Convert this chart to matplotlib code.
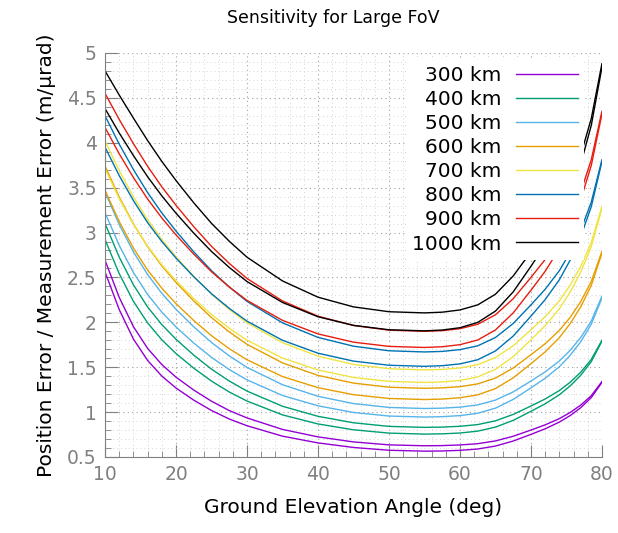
import matplotlib
matplotlib.use("Agg")
import matplotlib.pyplot as plt
from matplotlib.ticker import MultipleLocator, FuncFormatter

elev = [10, 12, 14, 16, 18, 20, 22.5, 25, 27.5, 30, 35, 40, 45, 50, 55,
        57.5, 60, 62.5, 65, 67.5, 70, 72, 74, 75.5, 77, 78.5, 80]

# two curves per altitude (upper "a" and lower "b"), in m/urad
err_300_a = [2.690, 2.277, 1.951, 1.709, 1.529, 1.389, 1.245, 1.121, 1.017, 0.935, 0.807, 0.724, 0.668, 0.635, 0.625,
             0.627, 0.634, 0.648, 0.679, 0.731, 0.800, 0.858, 0.927, 0.995, 1.077, 1.183, 1.340]
err_300_b = [2.560, 2.141, 1.813, 1.575, 1.401, 1.268, 1.133, 1.018, 0.923, 0.848, 0.732, 0.657, 0.606, 0.575, 0.565,
             0.567, 0.574, 0.589, 0.622, 0.678, 0.752, 0.814, 0.889, 0.960, 1.048, 1.162, 1.330]
err_400_a = [3.100, 2.725, 2.417, 2.170, 1.974, 1.811, 1.634, 1.478, 1.346, 1.234, 1.065, 0.953, 0.881, 0.841, 0.830,
             0.833, 0.842, 0.861, 0.903, 0.974, 1.068, 1.146, 1.240, 1.331, 1.443, 1.587, 1.800]
err_400_b = [2.920, 2.541, 2.233, 1.993, 1.805, 1.652, 1.489, 1.345, 1.224, 1.123, 0.969, 0.868, 0.803, 0.766, 0.755,
             0.758, 0.767, 0.788, 0.833, 0.908, 1.009, 1.092, 1.193, 1.290, 1.409, 1.562, 1.790]
err_500_a = [3.450, 3.089, 2.784, 2.531, 2.322, 2.145, 1.950, 1.775, 1.626, 1.498, 1.305, 1.176, 1.095, 1.052, 1.040,
             1.044, 1.055, 1.080, 1.134, 1.225, 1.346, 1.448, 1.569, 1.686, 1.830, 2.015, 2.290]
err_500_b = [3.220, 2.856, 2.554, 2.310, 2.113, 1.948, 1.769, 1.609, 1.474, 1.359, 1.185, 1.070, 0.996, 0.956, 0.945,
             0.949, 0.961, 0.987, 1.044, 1.141, 1.270, 1.377, 1.505, 1.630, 1.782, 1.979, 2.270]
err_600_a = [3.740, 3.394, 3.096, 2.842, 2.628, 2.444, 2.238, 2.052, 1.893, 1.755, 1.548, 1.409, 1.323, 1.277, 1.265,
             1.270, 1.283, 1.314, 1.379, 1.491, 1.639, 1.762, 1.910, 2.053, 2.229, 2.455, 2.790]
err_600_b = [3.470, 3.121, 2.826, 2.581, 2.380, 2.208, 2.020, 1.851, 1.706, 1.583, 1.396, 1.272, 1.194, 1.152, 1.140,
             1.145, 1.160, 1.192, 1.262, 1.381, 1.539, 1.671, 1.829, 1.983, 2.170, 2.411, 2.770]
err_700_a = [4.020, 3.689, 3.398, 3.143, 2.923, 2.729, 2.512, 2.314, 2.144, 1.995, 1.773, 1.623, 1.531, 1.483, 1.470,
             1.475, 1.492, 1.528, 1.607, 1.739, 1.916, 2.063, 2.240, 2.411, 2.620, 2.890, 3.290]
err_700_b = [3.710, 3.377, 3.091, 2.847, 2.641, 2.463, 2.265, 2.087, 1.934, 1.801, 1.602, 1.469, 1.386, 1.342, 1.330,
             1.336, 1.353, 1.392, 1.476, 1.617, 1.805, 1.962, 2.151, 2.333, 2.556, 2.843, 3.270]
err_800_a = [4.300, 3.984, 3.701, 3.444, 3.218, 3.016, 2.785, 2.575, 2.393, 2.233, 1.994, 1.832, 1.734, 1.683, 1.670,
             1.676, 1.696, 1.738, 1.831, 1.987, 2.194, 2.368, 2.575, 2.776, 3.022, 3.339, 3.810]
err_800_b = [3.950, 3.633, 3.355, 3.110, 2.900, 2.715, 2.507, 2.318, 2.155, 2.013, 1.800, 1.656, 1.568, 1.522, 1.510,
             1.517, 1.537, 1.583, 1.681, 1.847, 2.069, 2.253, 2.474, 2.689, 2.951, 3.288, 3.790]
err_900_a = [4.550, 4.259, 3.990, 3.737, 3.509, 3.303, 3.065, 2.846, 2.656, 2.488, 2.238, 2.068, 1.965, 1.913, 1.900,
             1.907, 1.929, 1.978, 2.084, 2.263, 2.500, 2.699, 2.936, 3.167, 3.448, 3.811, 4.350]
err_900_b = [4.170, 3.876, 3.612, 3.373, 3.162, 2.973, 2.759, 2.563, 2.393, 2.244, 2.022, 1.871, 1.779, 1.732, 1.720,
             1.728, 1.751, 1.803, 1.915, 2.105, 2.357, 2.568, 2.820, 3.064, 3.363, 3.748, 4.320]
err_1000_a = [4.800, 4.531, 4.274, 4.024, 3.792, 3.579, 3.331, 3.102, 2.903, 2.725, 2.461, 2.280, 2.172, 2.118, 2.105,
              2.113, 2.138, 2.194, 2.313, 2.516, 2.785, 3.010, 3.279, 3.540, 3.859, 4.270, 4.880]
err_1000_b = [4.380, 4.108, 3.857, 3.621, 3.408, 3.215, 2.993, 2.789, 2.611, 2.454, 2.221, 2.062, 1.966, 1.917, 1.905,
              1.914, 1.940, 1.999, 2.125, 2.339, 2.624, 2.862, 3.147, 3.422, 3.760, 4.194, 4.840]

labels = ["300 km", "400 km", "500 km", "600 km", "700 km", "800 km", "900 km", "1000 km"]
colors = ["#9400d3", "#009e73", "#56b4e9", "#e69f00", "#f0e442", "#0072b2", "#e51e10", "#000000"]
upper = [err_300_a, err_400_a, err_500_a, err_600_a, err_700_a, err_800_a, err_900_a, err_1000_a]
lower = [err_300_b, err_400_b, err_500_b, err_600_b, err_700_b, err_800_b, err_900_b, err_1000_b]

fig = plt.figure(figsize=(6.18, 5.33), dpi=100)
ax = fig.add_axes([0.170, 0.1426, 0.804, 0.758])

for lab, c, ya, yb in zip(labels, colors, upper, lower):
    ax.plot(elev, ya, color=c, lw=1.0, label=lab)
    ax.plot(elev, yb, color=c, lw=1.0)

ax.set_xlim(10, 80)
ax.set_ylim(0.5, 5)
ax.xaxis.set_major_locator(MultipleLocator(10))
ax.xaxis.set_minor_locator(MultipleLocator(2))
ax.yaxis.set_major_locator(MultipleLocator(0.5))
ax.yaxis.set_minor_locator(MultipleLocator(0.1))
ax.yaxis.set_major_formatter(FuncFormatter(lambda v, p: "%g" % v))

gray = "#808080"
ax.grid(which="major", color="#a0a0a0", linestyle=(0, (1, 3)), lw=0.8)
ax.grid(which="minor", color="#d4d4d4", linestyle=(0, (1, 3)), lw=0.7)
ax.set_axisbelow(True)
for s in ["top", "right"]:
    ax.spines[s].set_visible(False)
for s in ["left", "bottom"]:
    ax.spines[s].set_color(gray)
ax.tick_params(which="both", direction="in", color=gray, labelcolor=gray, labelsize=13.5)
ax.tick_params(which="major", length=9, pad=6)
ax.tick_params(which="minor", length=4.5)

ax.set_xlabel("Ground Elevation Angle (deg)", fontsize=14.5, labelpad=10)
ax.set_ylabel("Position Error / Measurement Error (m/μrad)", fontsize=14.5, labelpad=8)
fig.text(0.540, 0.966, "Sensitivity for Large FoV", ha="center", va="center", fontsize=12.5)

leg = ax.legend(loc="upper right", bbox_to_anchor=(0.985, 1.007), markerfirst=False,
                fontsize=14.5, handlelength=3.1, handletextpad=0.7, labelspacing=0.25,
                frameon=True, fancybox=False, framealpha=1, borderpad=0.3)
leg.get_frame().set_edgecolor("white")
leg.get_frame().set_linewidth(0)

fig.savefig("out.png", dpi=100)
